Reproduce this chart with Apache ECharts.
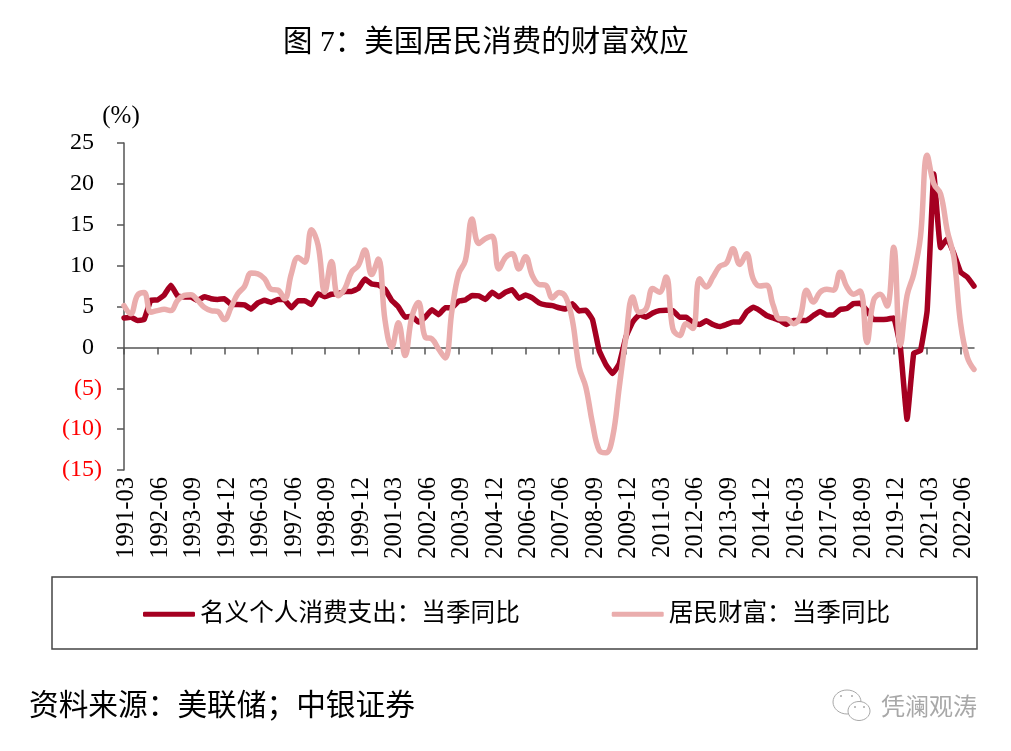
<!DOCTYPE html>
<html>
<head>
<meta charset="utf-8">
<style>html,body{margin:0;padding:0;background:#fff}#Line{width:1011px;height:751px}</style>
<script src="https://cdn.jsdelivr.net/npm/echarts@6/dist/echarts.min.js"></script>
</head>
<body>
<div id="Line"></div>
<script>
// quarters 1991-03 .. 2022-12
var years = [], categories = []
for (var y = 1991; y <= 2022; y++) years.push(y)
years.forEach(function (y) {
	["03", "06", "09", "12"].forEach(function (m) { categories.push(y + "-" + m) })
})

var consumption = [
	3.6, 3.7, 3.3, 3.4, 5.75, 5.8, 6.4, 7.6, 6.3, 6.15, 6.15, 5.75, 6.2, 5.95, 5.87, 5.95,
	5.25, 5.25, 5.2, 4.7, 5.45, 5.75, 5.5, 5.87, 5.8, 4.85, 5.7, 5.7, 5.25, 6.55, 6.2, 6.5,
	6.55, 6.85, 6.85, 7.2, 8.35, 7.75, 7.65, 7.1, 5.75, 4.95, 3.7, 3.8, 3.1, 3.7, 4.6, 4.0,
	4.85, 4.85, 5.65, 5.8, 6.35, 6.3, 5.87, 6.75, 6.2, 6.75, 7.05, 6.0, 6.4, 6.05, 5.45, 5.2,
	5.1, 4.85, 4.7, 5.35, 4.45, 4.55, 3.4, -0.4, -2.1, -3.2, -2.0, 1.3, 3.1, 4.0, 3.7, 4.2,
	4.5, 4.55, 4.5, 3.7, 3.7, 3.0, 2.8, 3.25, 2.8, 2.55, 2.8, 3.1, 3.1, 4.3, 4.9, 4.5,
	3.9, 3.6, 3.3, 2.8, 3.3, 3.3, 3.3, 3.9, 4.4, 3.95, 3.95, 4.65, 4.75, 5.35, 5.4, 4.5,
	3.4, 3.4, 3.45, 3.6, 0, -8.8, -0.7, -0.4, 4.5, 21.2, 12.2, 13.3, 11.45, 9.2, 8.6, 7.5
]
var wealth = [
	5.1, 4.1, 6.35, 6.7, 4.3, 4.5, 4.65, 4.5, 5.75, 6.35, 6.45, 5.75, 4.9, 4.5, 4.4, 3.4,
	4.9, 6.55, 7.45, 9.1, 9.0, 8.4, 7.1, 7.0, 5.95, 9.0, 11.0, 10.4, 14.4, 12.5, 6.75, 10.5,
	6.3, 7.2, 9.2, 10.0, 11.9, 8.9, 10.8, 3.3, 0, 3.0, -1.0, 3.7, 5.5, 1.25, 1.05, -0.2,
	-1.3, 4.5, 9.0, 10.6, 15.7, 12.7, 13.3, 13.6, 9.6, 11.0, 11.45, 9.6, 11.1, 8.8, 7.7, 7.6,
	6.05, 6.7, 6.15, 3.3, -2.4, -4.85, -9.3, -12.6, -12.9, -11.0, -4.85, 1.25, 6.15, 4.3, 4.7, 7.2,
	6.75, 8.6, 2.3, 1.45, 2.9, 2.3, 8.4, 7.4, 8.6, 9.9, 10.3, 12.05, 10.15, 11.45, 8.4, 7.5,
	7.6, 5.15, 3.5, 3.5, 2.9, 3.7, 7.0, 5.55, 6.75, 7.1, 7.0, 9.2, 7.4, 6.5, 6.9, 0.6,
	5.75, 6.5, 5.05, 12.25, 0.25, 6.35, 9.0, 13.5, 23.5, 20, 18.8, 14.3, 11.0, 2.9, -1.2, -2.7
]
// \uFF1A and \uFF1B: full width colon and semicolon
var seriesNames = ["名义个人消费支出\uFF1A当季同比", "居民财富\uFF1A当季同比"]
var titleText = "图 7\uFF1A美国居民消费的财富效应"
var sourceText = "资料来源\uFF1A美联储\uFF1B中银证券"
var markText = "凭澜观涛"

var serif = '"Liberation Serif","Noto Sans CJK SC"'
var axisColor = "#555555"
var markColor = "#a8a8a8"

var Echarts = echarts.init(document.getElementById("Line"), null, { renderer: "canvas" })
Echarts.setOption({
	animation: false,
	backgroundColor: "#ffffff",
	textStyle: { fontFamily: serif, color: "#000" },
	title: {
		text: titleText,
		left: 278, top: 23,
		textStyle: { fontFamily: serif, fontSize: 29.5, fontWeight: "normal", color: "#000" }
	},
	grid: { left: 124, top: 143, width: 850, height: 327 },
	legend: {
		left: 138, top: 597,
		itemWidth: 52, itemHeight: 5, itemGap: 92,
		icon: "roundRect",
		data: seriesNames,
		textStyle: { fontFamily: serif, fontSize: 24.6, color: "#000" }
	},
	xAxis: [
		{	// labels stay at the bottom of the plot
			type: "category", data: categories, boundaryGap: false, position: "bottom",
			axisLine: { show: false, onZero: false }, axisTick: { show: false },
			axisLabel: {
				interval: 4, rotate: 90, margin: 7, hideOverlap: false,
				formatter: function (v) { return "{t|" + v + "}" },
				rich: { t: { fontFamily: serif, fontSize: 24.5, color: "#000", padding: [6, 0, 0, 0] } }
			}
		},
		{	// line and ticks cross at zero
			type: "category", data: categories, boundaryGap: false, position: "bottom",
			axisLine: { show: true, onZero: true, lineStyle: { color: axisColor, width: 1.5 } },
			axisTick: { show: true, interval: 4, length: 7, lineStyle: { color: axisColor, width: 1.5 } },
			axisLabel: { show: false }
		}
	],
	yAxis: {
		type: "value", min: -15, max: 25, interval: 5,
		name: "(%)", nameLocation: "end", nameGap: 14,
		nameTextStyle: { fontFamily: serif, fontSize: 25, color: "#000", align: "center", padding: [0, 6, 0, 0] },
		axisLine: { show: true, onZero: false, lineStyle: { color: axisColor, width: 1.5 } },
		axisTick: { show: true, length: 7, lineStyle: { color: axisColor, width: 1.5 } },
		splitLine: { show: false },
		axisLabel: {
			margin: 22,
			formatter: function (v) { return v < 0 ? "{neg|(" + Math.abs(v) + ")}" : "{pos|" + v + "}" },
			rich: {
				neg: { fontFamily: serif, fontSize: 24, color: "#ff0000" },
				pos: { fontFamily: serif, fontSize: 24, color: "#000000", padding: [0, 8, 0, 0] }
			}
		}
	},
	series: [
		{
			name: seriesNames[0], type: "line", data: consumption, showSymbol: false, smooth: 0.1,
			lineStyle: { color: "#A50021", width: 5.5, cap: "round", join: "round" },
			itemStyle: { color: "#A50021" }, z: 2
		},
		{
			name: seriesNames[1], type: "line", data: wealth, showSymbol: false, smooth: 0.4,
			lineStyle: { color: "#EAADAD", width: 5.5, cap: "round", join: "round" },
			itemStyle: { color: "#EAADAD" }, z: 3
		}
	],
	graphic: [
		{ type: "rect", shape: { x: 52, y: 577, width: 925, height: 72 }, style: { fill: "none", stroke: "#444", lineWidth: 1.5 } },
		{ type: "text", left: 29, top: 692, style: { text: sourceText, font: '29.7px ' + serif, fill: "#000" } },
		{ type: "text", left: 881, top: 694, style: { text: markText, font: '24px "Noto Sans CJK SC"', fill: markColor } },
		// wechat mark
		{ type: "ellipse", shape: { cx: 847, cy: 702, rx: 14, ry: 12 }, style: { fill: "#fff", stroke: markColor, lineWidth: 1 } },
		{ type: "ellipse", shape: { cx: 859, cy: 711, rx: 11, ry: 9.5 }, style: { fill: "#fff", stroke: markColor, lineWidth: 1 } },
		{ type: "circle", shape: { cx: 841, cy: 696, r: 1 }, style: { fill: markColor } },
		{ type: "circle", shape: { cx: 852, cy: 696, r: 1 }, style: { fill: markColor } },
		{ type: "circle", shape: { cx: 855, cy: 707, r: 1 }, style: { fill: markColor } },
		{ type: "circle", shape: { cx: 864, cy: 707, r: 1 }, style: { fill: markColor } }
	]
})
</script>
</body>
</html>
